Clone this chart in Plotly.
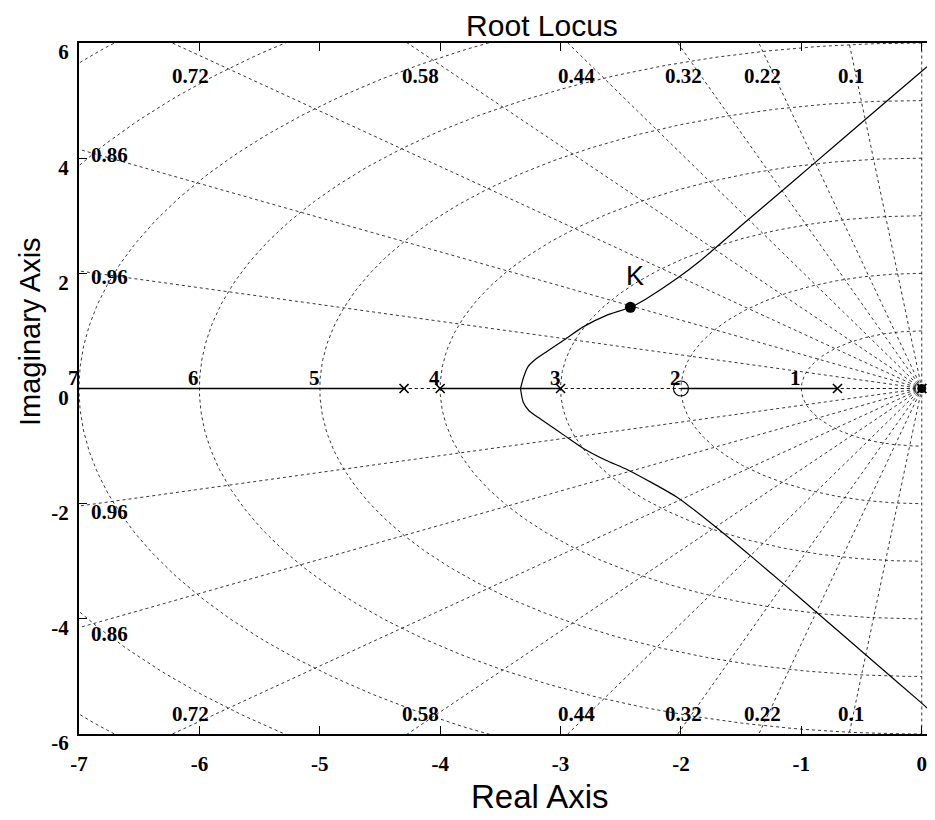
import numpy as np
import plotly.graph_objects as go

# ---------------- data ----------------
zeta_grid = [0.0, 0.1, 0.22, 0.32, 0.44, 0.58, 0.72, 0.86, 0.96, 1.0]
zeta_labels = [0.1, 0.22, 0.32, 0.44, 0.58, 0.72, 0.86, 0.96]
zeta_label_text = ["0.1", "0.22", "0.32", "0.44", "0.58", "0.72", "0.86", "0.96"]
wn_grid = [1, 2, 3, 4, 5, 6, 7, 8, 9]
wn_labels = [1, 2, 3, 4, 5, 6, 7]

poles_re = [0.0, 0.0, -0.7, -3.0, -4.0, -4.3]
poles_im = [0.0, 0.0, 0.0, 0.0, 0.0, 0.0]
zeros_re = [-2.0]
zeros_im = [0.0]

# real-axis locus segments (start, end)
seg_start = [-7.5, -4.0, -2.0]
seg_end = [-4.3, -3.0, -0.7]

# complex branches
upper_re = [-3.333, -3.306, -3.27, -3.2, -3.117, -2.965, -2.813, -2.619, -2.42,
            -2.287, -2.02, -1.85, -1.443, -1.179, -0.916, -0.515, -0.017, 0.108]
upper_im = [0.0, 0.205, 0.38, 0.52, 0.64, 0.85, 1.07, 1.27, 1.41,
            1.56, 1.93, 2.20, 2.93, 3.40, 3.87, 4.59, 5.48, 5.70]
lower_re = [-3.333, -3.31, -3.26, -3.173, -2.951, -2.81, -2.619, -2.44, -2.024, -1.69,
            -1.414, -1.138, -0.889, -0.473, -0.003, 0.108]
lower_im = [0.0, -0.24, -0.39, -0.52, -0.84, -1.04, -1.25, -1.415, -1.90, -2.44,
            -2.92, -3.41, -3.86, -4.61, -5.46, -5.67]

k_re = [-2.42]
k_im = [1.41]
k_text = ["K"]

x_tick_vals = [-7, -6, -5, -4, -3, -2, -1, 0]
x_tick_text = ["-7", "-6", "-5", "-4", "-3", "-2", "-1", "0"]
y_tick_vals = [-6, -4, -2, 0, 2, 4, 6]
y_tick_text = ["-6", "-4", "-2", "0", "2", "4", "6"]

x_range = [-7, 0.11]
y_range = [-6, 6]

# ---------------- styles ----------------
PAGE_OFF = 8  # default body margin of the html page
W, H = 935 - PAGE_OFF, 820 - PAGE_OFF
GRID = dict(color="rgba(20,20,20,0.85)", width=1, dash="dot")
SERIF = dict(family="Liberation Serif", size=21, color="black", weight="bold")
SANS = "Liberation Sans"

fig = go.Figure()

# grid: natural-frequency circles (left half plane)
th = np.linspace(np.pi / 2, 3 * np.pi / 2, 300)
cx, cy = [], []
for w in wn_grid:
    cx += list(w * np.cos(th)) + [None]
    cy += list(w * np.sin(th)) + [None]
fig.add_trace(go.Scatter(x=cx, y=cy, mode="lines", line=GRID, hoverinfo="skip", showlegend=False))

# grid: damping rays
R = 15.0
rx, ry = [], []
for z in zeta_grid:
    s = np.sqrt(1 - z * z)
    rx += [0, -R * z, None, 0, -R * z, None]
    ry += [0, R * s, None, 0, -R * s, None]
fig.add_trace(go.Scatter(x=rx, y=ry, mode="lines", line=GRID, hoverinfo="skip", showlegend=False))

# locus on real axis
lx, ly = [], []
for a, b in zip(seg_start, seg_end):
    lx += [a, b, None]
    ly += [0, 0, None]
fig.add_trace(go.Scatter(x=lx, y=ly, mode="lines", line=dict(color="black", width=1.3),
                         hoverinfo="skip", showlegend=False))
BR = dict(color="black", width=1.2, shape="spline", smoothing=0.6)
fig.add_trace(go.Scatter(x=upper_re, y=upper_im, mode="lines", line=BR, hoverinfo="skip", showlegend=False))
fig.add_trace(go.Scatter(x=lower_re, y=lower_im, mode="lines", line=BR, hoverinfo="skip", showlegend=False))

# poles, zeros
fig.add_trace(go.Scatter(x=poles_re, y=poles_im, mode="markers",
                         marker=dict(symbol="x-thin", size=9, color="black", line=dict(color="black", width=1.6)),
                         hoverinfo="skip", showlegend=False, cliponaxis=False))
fig.add_trace(go.Scatter(x=zeros_re, y=zeros_im, mode="markers",
                         marker=dict(symbol="circle-open", size=15, color="black",
                                     line=dict(color="black", width=1.2)),
                         hoverinfo="skip", showlegend=False))
# dense cluster at origin
fig.add_trace(go.Scatter(x=[poles_re[0]], y=[poles_im[0]], mode="markers",
                         marker=dict(symbol="circle", size=9, color="black"),
                         hoverinfo="skip", showlegend=False, cliponaxis=False))

# K point
fig.add_trace(go.Scatter(x=k_re, y=k_im, mode="markers",
                         marker=dict(symbol="circle", size=11, color="black"),
                         hoverinfo="skip", showlegend=False))

ann = []
ann.append(dict(x=k_re[0], y=k_im[0], xref="x", yref="y", text=k_text[0], showarrow=False,
                yshift=31, xshift=5, font=dict(family=SANS, size=27, color="black")))

# wn labels at (-wn, 0)
for w in wn_labels:
    ann.append(dict(x=-w, y=0, xref="x", yref="y", text=str(w), showarrow=False,
                    xanchor="right", yanchor="bottom", xshift=2, yshift=-3, font=SERIF))

# zeta labels
xmin, ymax = x_range[0], y_range[1]
for z, t in zip(zeta_labels, zeta_label_text):
    s = np.sqrt(1 - z * z)
    xi = -ymax * z / s
    if xi >= xmin:
        for ypos in (5.42, -5.66):
            ann.append(dict(x=xi, y=ypos, xref="x", yref="y", text=t, showarrow=False,
                            xanchor="center", yanchor="middle", xshift=3 * abs(xi), font=SERIF))
    else:
        yi = -xmin * s / z
        for sign in (1, -1):
            ann.append(dict(x=xmin, y=sign * yi, xref="x", yref="y", text=t, showarrow=False,
                            xanchor="left", yanchor="middle", xshift=10, yshift=-6, font=SERIF))

# axis titles
ann.append(dict(x=(540 - 79) / 856, y=(734 - 796) / 691, xref="paper", yref="paper", text="Real Axis",
                showarrow=False, xanchor="center", yanchor="middle",
                font=dict(family=SANS, size=33, color="black")))
ann.append(dict(x=(30 - 79) / 856, y=(734 - 332) / 691, xref="paper", yref="paper", text="Imaginary Axis",
                showarrow=False, xanchor="center", yanchor="middle", textangle=-90,
                font=dict(family=SANS, size=29, color="black")))

fig.update_layout(
    width=W, height=H,
    margin=dict(l=79 - PAGE_OFF, r=0, t=43 - PAGE_OFF, b=H - (734 - PAGE_OFF), autoexpand=False),
    paper_bgcolor="white", plot_bgcolor="white",
    title=dict(text="Root Locus", x=(542 - PAGE_OFF) / W, xref="container", xanchor="center",
               y=1 - (25 - PAGE_OFF) / H, yref="container", yanchor="middle",
               font=dict(family=SANS, size=30, color="black")),
    annotations=ann,
    showlegend=False,
)
fig.update_xaxes(range=x_range, tickvals=x_tick_vals, ticktext=x_tick_text, tickfont=SERIF,
                 showgrid=False, zeroline=False, showline=True, linecolor="black", linewidth=1.5,
                 mirror="ticks", ticks="inside", ticklen=8, tickcolor="black", tickwidth=1,
                 ticklabelstandoff=10, automargin=False)
fig.update_yaxes(range=y_range, tickvals=y_tick_vals, ticktext=y_tick_text, tickfont=SERIF,
                 showgrid=False, zeroline=False, showline=True, linecolor="black", linewidth=2,
                 mirror=False, ticks="inside", ticklen=8, tickcolor="black", tickwidth=1,
                 ticklabelstandoff=4, ticklabelshift=9, automargin=False)

fig.write_html("out.html")
